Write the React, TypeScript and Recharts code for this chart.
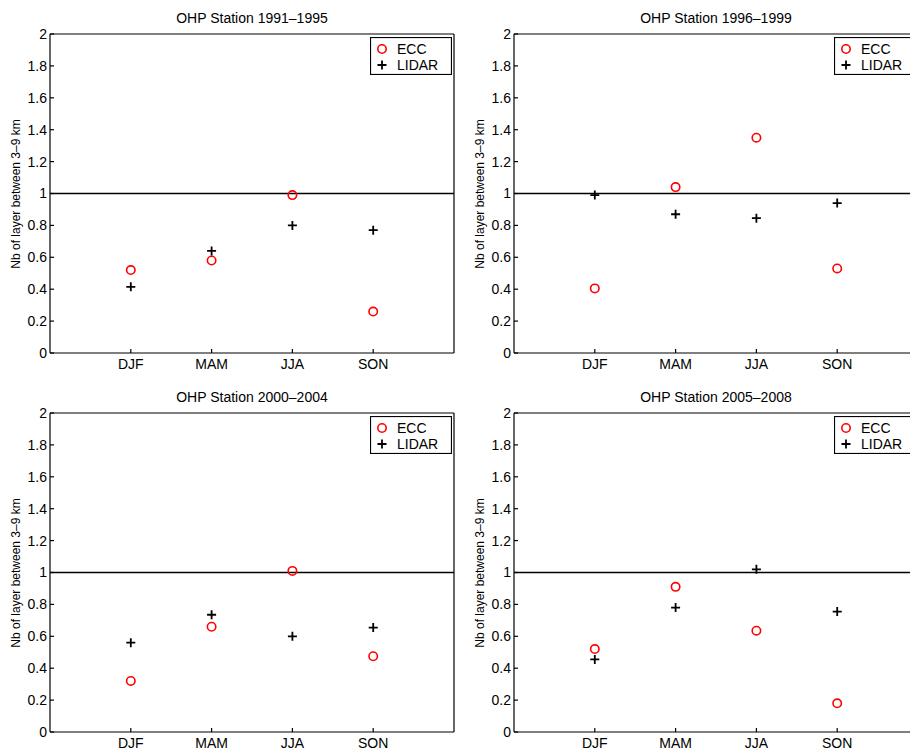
import { Legend, ReferenceLine, Scatter, ScatterChart, XAxis, YAxis } from "recharts"

const SEASONS = ["DJF", "MAM", "JJA", "SON"]
const X_TICKS = [1, 2, 3, 4]
const Y_TICKS = [0, 0.2, 0.4, 0.6, 0.8, 1, 1.2, 1.4, 1.6, 1.8, 2]
const Y_LABEL = "Nb of layer between 3–9 km"

const TITLES = [
  "OHP Station 1991–1995",
  "OHP Station 1996–1999",
  "OHP Station 2000–2004",
  "OHP Station 2005–2008",
]

// values per season, DJF / MAM / JJA / SON
const ECC_1991 = [0.52, 0.58, 0.99, 0.26]
const LIDAR_1991 = [0.415, 0.64, 0.8, 0.77]
const ECC_1996 = [0.405, 1.04, 1.35, 0.53]
const LIDAR_1996 = [0.99, 0.87, 0.845, 0.94]
const ECC_2000 = [0.32, 0.66, 1.01, 0.475]
const LIDAR_2000 = [0.56, 0.735, 0.6, 0.655]
const ECC_2005 = [0.52, 0.91, 0.635, 0.18]
const LIDAR_2005 = [0.455, 0.78, 1.02, 0.755]

const FONT = '"Liberation Sans", Arial, Helvetica, sans-serif'
// negative = ticks drawn inside the box, matlab style
const TICK = -4

const toRows = (vals: number[]) => vals.map((y, i) => ({ x: i + 1, y }))

const fmtY = (v: number) => String(Math.round(v * 10) / 10)

const Circle = (p: any) => (
  <circle cx={p.cx} cy={p.cy} r={4.2} fill="none" stroke="#ff0000" strokeWidth={1.6} />
)

const Plus = (p: any) => (
  <path
    d={`M${p.cx - 4.5},${p.cy}H${p.cx + 4.5}M${p.cx},${p.cy - 4.5}V${p.cy + 4.5}`}
    stroke="#000"
    strokeWidth={1.8}
    fill="none"
  />
)

const Nothing = () => <g />

function LegendBox() {
  return (
    <svg width={82} height={38} style={{ display: "block" }}>
      <rect x={0.5} y={0.5} width={81} height={37} fill="#fff" stroke="#000" strokeWidth={1.2} />
      <circle cx={12} cy={12} r={4.2} fill="none" stroke="#ff0000" strokeWidth={1.6} />
      <path d="M7.5,28H16.5M12,23.5V32.5" stroke="#000" strokeWidth={1.8} />
      <text x={27} y={17} fontSize={14} fill="#000">ECC</text>
      <text x={27} y={33} fontSize={14} fill="#000">LIDAR</text>
    </svg>
  )
}

function Panel({
  title,
  ecc,
  lidar,
  left,
  top,
}: {
  title: string
  ecc: number[]
  lidar: number[]
  left: number
  top: number
}) {
  const axisStyle = { stroke: "#000", strokeWidth: 1.2 }
  return (
    <div style={{ position: "absolute", left, top, width: 460, height: 380 }}>
      <div
        style={{
          position: "absolute",
          left: 50,
          width: 404,
          top: 10,
          lineHeight: "16px",
          fontSize: 14,
          textAlign: "center",
          color: "#000",
        }}
      >
        {title}
      </div>
      <div
        style={{
          position: "absolute",
          left: 16,
          top: 193.5,
          transform: "translate(-50%, -50%) rotate(-90deg)",
          whiteSpace: "nowrap",
          fontSize: 12,
          lineHeight: "14px",
          color: "#000",
        }}
      >
        {Y_LABEL}
      </div>
      <ScatterChart width={460} height={380} margin={{ top: 33, right: 5, bottom: 0, left: 0 }}>
        <XAxis
          type="number"
          dataKey="x"
          domain={[0, 5]}
          ticks={X_TICKS}
          interval={0}
          tickFormatter={(v) => SEASONS[v - 1]}
          height={27}
          tickSize={TICK}
          tickMargin={10}
          axisLine={axisStyle}
          tickLine={axisStyle}
          tick={{ fontSize: 14, fill: "#000" }}
        />
        <XAxis
          xAxisId="top"
          orientation="top"
          type="number"
          dataKey="x"
          domain={[0, 5]}
          ticks={X_TICKS}
          interval={0}
          height={1}
          tickSize={TICK}
          axisLine={axisStyle}
          tickLine={axisStyle}
          tick={false}
        />
        <YAxis
          type="number"
          dataKey="y"
          domain={[0, 2]}
          ticks={Y_TICKS}
          interval={0}
          tickFormatter={fmtY}
          width={50}
          tickSize={TICK}
          tickMargin={7}
          axisLine={axisStyle}
          tickLine={axisStyle}
          tick={{ fontSize: 14, fill: "#000" }}
        />
        <YAxis
          yAxisId="right"
          orientation="right"
          type="number"
          dataKey="y"
          domain={[0, 2]}
          ticks={Y_TICKS}
          interval={0}
          width={1}
          tickSize={TICK}
          axisLine={axisStyle}
          tickLine={axisStyle}
          tick={false}
        />
        <ReferenceLine y={1} stroke="#000" strokeWidth={1.6} />
        <Scatter name="ECC" data={toRows(ecc)} shape={Circle} isAnimationActive={false} />
        <Scatter name="LIDAR" data={toRows(lidar)} shape={Plus} isAnimationActive={false} />
        {/* invisible copy so the top/right box axes get a domain and render */}
        <Scatter
          xAxisId="top"
          yAxisId="right"
          data={toRows(ecc)}
          shape={Nothing}
          legendType="none"
          isAnimationActive={false}
        />
        <Legend
          layout="vertical"
          align="center"
          verticalAlign="middle"
          content={() => <LegendBox />}
          wrapperStyle={{ position: "absolute", left: 370, top: 37, width: 82, height: 38 }}
        />
      </ScatterChart>
    </div>
  )
}

export default function App() {
  return (
    <div
      style={{
        position: "absolute",
        left: 0,
        top: 0,
        width: 910,
        height: 751,
        overflow: "hidden",
        background: "#fff",
        fontFamily: FONT,
      }}
    >
      <Panel title={TITLES[0]} ecc={ECC_1991} lidar={LIDAR_1991} left={0} top={0} />
      <Panel title={TITLES[1]} ecc={ECC_1996} lidar={LIDAR_1996} left={464} top={0} />
      <Panel title={TITLES[2]} ecc={ECC_2000} lidar={LIDAR_2000} left={0} top={379} />
      <Panel title={TITLES[3]} ecc={ECC_2005} lidar={LIDAR_2005} left={464} top={379} />
    </div>
  )
}
